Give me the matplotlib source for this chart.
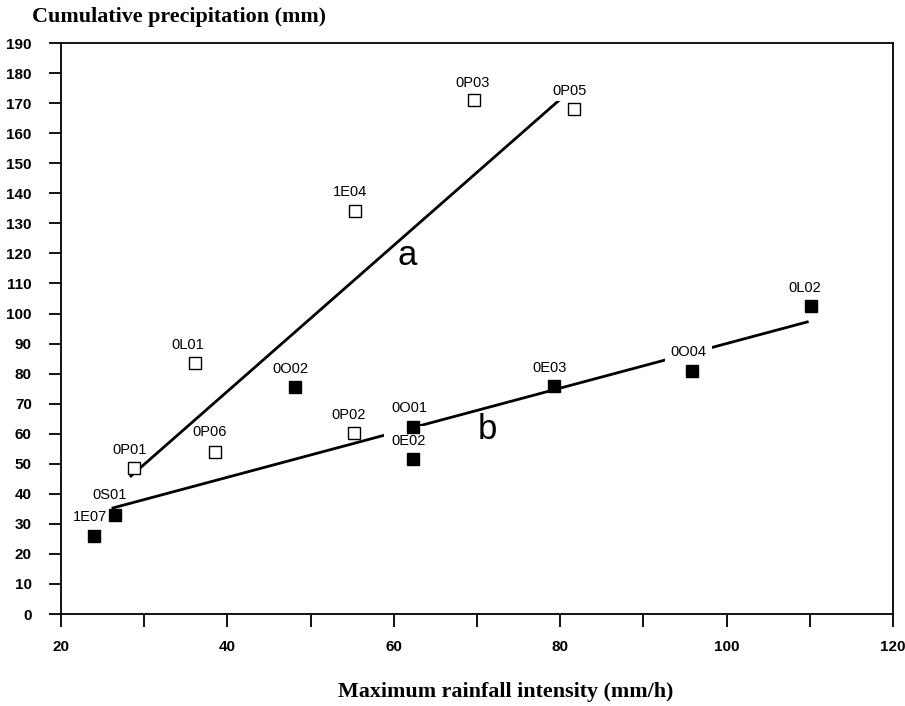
import matplotlib
matplotlib.use("Agg")
import matplotlib.pyplot as plt

# open squares (group a)
open_names = ["0P01", "0L01", "0P06", "1E04", "0P02", "0P03", "0P05"]
open_x = [28.8, 36.1, 38.5, 55.3, 55.2, 69.6, 81.7]
open_y = [48.6, 83.5, 53.9, 134.1, 60.2, 171.0, 168.0]

# filled squares (group b)
fill_names = ["1E07", "0S01", "0O02", "0O01", "0E02", "0E03", "0O04", "0L02"]
fill_x = [24.0, 26.5, 48.1, 62.3, 62.3, 79.3, 95.8, 110.1]
fill_y = [26.0, 33.0, 75.5, 62.2, 51.6, 75.9, 80.9, 102.5]

# fitted lines (end points)
line_a_x = [28.4, 80.3]
line_a_y = [45.9, 172.0]
line_b_x = [26.25, 109.7]
line_b_y = [35.3, 97.2]

# label offsets in pixels (dx, dy) from the marker
open_off = [(-5, 18), (-7, 18), (-5, 20), (-5, 19), (-5, 18), (-1, 17), (-5, 18)]
fill_off = [(-4, 19), (-6, 20), (-4, 18), (-4, 19), (-4, 18), (-5, 18), (-3, 19), (-6, 18)]
# labels that break the fitted line in the original
knockout = {"0E02": 0.55, "0O04": 0.4, "0P05": 0.2}

fig = plt.figure(figsize=(9.05, 7.06), dpi=100)
ax = fig.add_axes([0.0674, 0.1303, 0.9193, 0.8087])

ax.plot(line_a_x, line_a_y, color="black", lw=2.0, zorder=2)
ax.plot(line_b_x, line_b_y, color="black", lw=2.0, zorder=2)

ax.plot(open_x, open_y, "s", ms=8, mfc="white", mec="black", mew=1.0, ls="none", zorder=4)
ax.plot(fill_x, fill_y, "s", ms=8, mfc="black", mec="black", ls="none", zorder=4)


def label(name, x, y, off):
    bb = None
    if name in knockout:
        bb = dict(boxstyle="square,pad=%s" % knockout[name], fc="white", ec="none")
    ax.annotate(name, (x, y), xytext=off, textcoords="offset pixels",
                ha="center", va="center", fontsize=10.5, family="Liberation Sans",
                bbox=bb, zorder=3)


for name, x, y, off in zip(open_names, open_x, open_y, open_off):
    label(name, x, y, off)
for name, x, y, off in zip(fill_names, fill_x, fill_y, fill_off):
    label(name, x, y, off)

ax.text(61.6, 119.3, "a", fontsize=25, family="Liberation Sans", ha="center", va="center")
ax.text(71.2, 61.5, "b", fontsize=25, family="Liberation Sans", ha="center", va="center")

ax.set_xlim(20, 120)
ax.set_ylim(0, 190)
ax.set_xticks(range(20, 121, 10))
ax.set_xticklabels([str(v) if v % 20 == 0 else "" for v in range(20, 121, 10)])
ax.set_yticks(range(0, 191, 10))
ax.tick_params(direction="out", length=9, width=1.3, color="black")
ax.tick_params(axis="x", pad=10)
ax.tick_params(axis="y", pad=12)
for lab in ax.get_xticklabels() + ax.get_yticklabels():
    lab.set_fontfamily("Liberation Sans")
    lab.set_fontweight("bold")
    lab.set_fontsize(11)
for sp in ax.spines.values():
    sp.set_linewidth(1.3)

fig.text(32 / 905, 1 - 17 / 706, "Cumulative precipitation (mm)", ha="left", va="center",
         family="Liberation Serif", fontweight="bold", fontsize=15.8)
fig.text(506 / 905, 1 - 692 / 706, "Maximum rainfall intensity (mm/h)", ha="center", va="center",
         family="Liberation Serif", fontweight="bold", fontsize=15.8)

fig.savefig("out.png", dpi=100)
